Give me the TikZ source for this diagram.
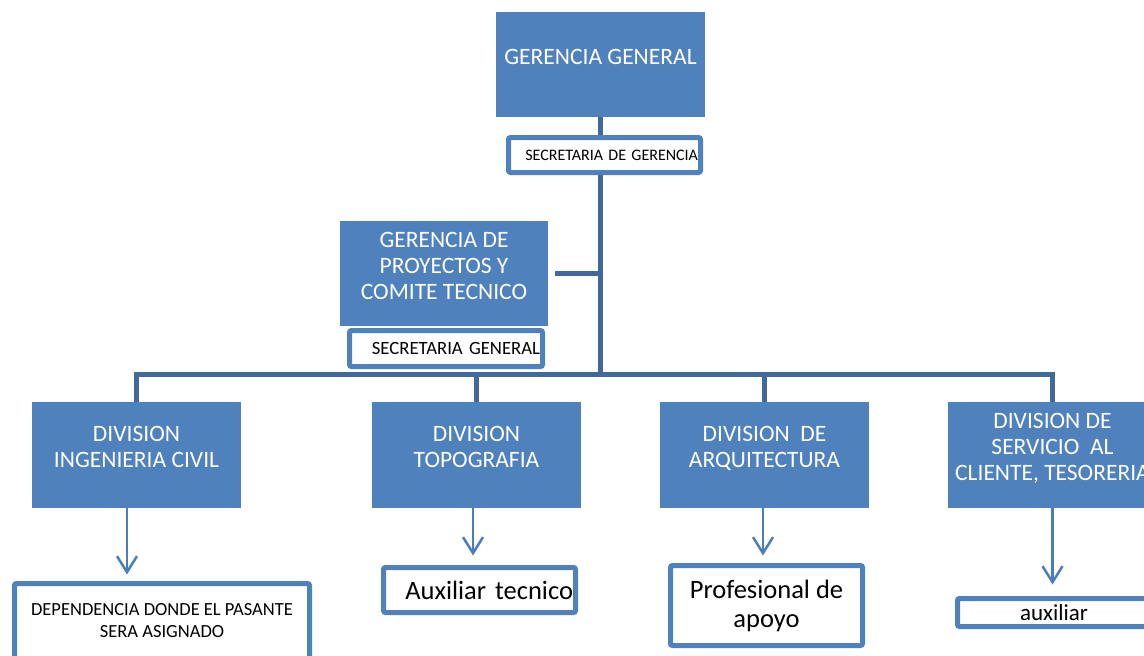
\documentclass[tikz,border=0pt]{standalone}
\usepackage{fontspec}
\setmainfont{Carlito}
\usetikzlibrary{arrows.meta}

\definecolor{unitblue}{HTML}{4F81BD}
\definecolor{lineblue}{HTML}{41699C}
\definecolor{frameblue}{HTML}{4F81BD}
\definecolor{arrowblue}{HTML}{4A7EBB}

\tikzset{
  unit/.style={fill=unitblue, text=white, minimum width=209pt, minimum height=105pt,
    inner sep=2pt, align=center, font=\fontsize{23.5}{26}\selectfont,
    execute at end node={\rule[-16pt]{0pt}{0pt}}},
  post/.style={draw=frameblue, line width=5pt, fill=white, rounded corners=2pt,
    inner sep=2.5pt, align=center},
  trunk/.style={draw=lineblue, line width=5pt},
  subarrow/.style={draw=arrowblue, line width=2.5pt, -{Straight Barb[length=16pt,width=20pt]}}
}

\begin{document}
\begin{tikzpicture}[x=1pt,y=-1pt]
    \useasboundingbox (0,0) rectangle (1144,656);
    \clip (0,0) rectangle (1144,656);
    % gerencias
    \node[unit] (gg) at (600.5,64.5) {GERENCIA GENERAL};
    \node[unit, minimum width=208pt] (gp) at (444,273.5) {GERENCIA DE\\PROYECTOS Y\\COMITE TECNICO};
    % divisiones
    \node[unit, minimum height=106pt] (dic) at (136.5,455) {DIVISION\\INGENIERIA CIVIL};
    \node[unit, minimum height=106pt] (dto) at (476.5,455) {DIVISION\\TOPOGRAFIA};
    \node[unit, minimum height=106pt] (dar) at (764.5,455) {DIVISION\ \ DE\\ARQUITECTURA};
    \node[unit, minimum height=106pt] (dsc) at (1052.5,455) {DIVISION DE\\SERVICIO\ \ AL\\CLIENTE, TESORERIA};
    % cargos
    \node[post, minimum width=295pt, minimum height=75pt, font=\fontsize{18.5}{22}\selectfont] (dep) at (162,621) {DEPENDENCIA DONDE EL PASANTE\\SERA ASIGNADO};
    \node[post, minimum width=192pt, minimum height=45pt, text width=187pt, align=right, font=\fontsize{26.5}{29}\selectfont] (auxt) at (479.5,590) {Auxiliar tecnico};
    \node[post, minimum width=192pt, minimum height=80pt, font=\fontsize{26.5}{29}\selectfont] (prof) at (766.5,605.5) {Profesional de\\apoyo};
    \node[post, minimum width=193pt, minimum height=28pt, font=\fontsize{23}{26}\selectfont] (aux) at (1054,612.5) {auxiliar};
    % lineas
    \coordinate (busc) at (600.5,374);
    \draw[trunk] (gg) -- (busc);
    \draw[trunk] ([xshift=7pt]gp.east) -- (gp.east -| busc);
    \draw[trunk, line cap=rect] (dic.north |- busc) -- (dsc.north |- busc);
    \foreach \d in {dic,dto,dar,dsc}
        \draw[trunk] (\d.north |- busc) -- (\d.north);
    \draw[subarrow, shorten >=6.5pt] ([xshift=-9.5pt]dic.south) -- ([xshift=-9.5pt]dic.south |- dep.north);
    \draw[subarrow, shorten >=9.5pt] ([xshift=-3.5pt]dto.south) -- ([xshift=-3.5pt]dto.south |- auxt.north);
    \draw[subarrow, shorten >=7.5pt] ([xshift=-1.5pt]dar.south) -- ([xshift=-1.5pt]dar.south |- prof.north);
    \draw[subarrow, shorten >=11.5pt] (dsc.south) -- (dsc.south |- aux.north);
    % secretarias
    \node[post, minimum width=192pt, minimum height=35pt, text width=187pt, align=right, font=\fontsize{16}{19}\selectfont] (sdg) at (604.5,155) {SECRETARIA DE GERENCIA};
    \node[post, minimum width=193pt, minimum height=36pt, text width=188pt, align=right, font=\fontsize{18.7}{21}\selectfont] (sgen) at (446,348.5) {SECRETARIA GENERAL};
\end{tikzpicture}
\end{document}
